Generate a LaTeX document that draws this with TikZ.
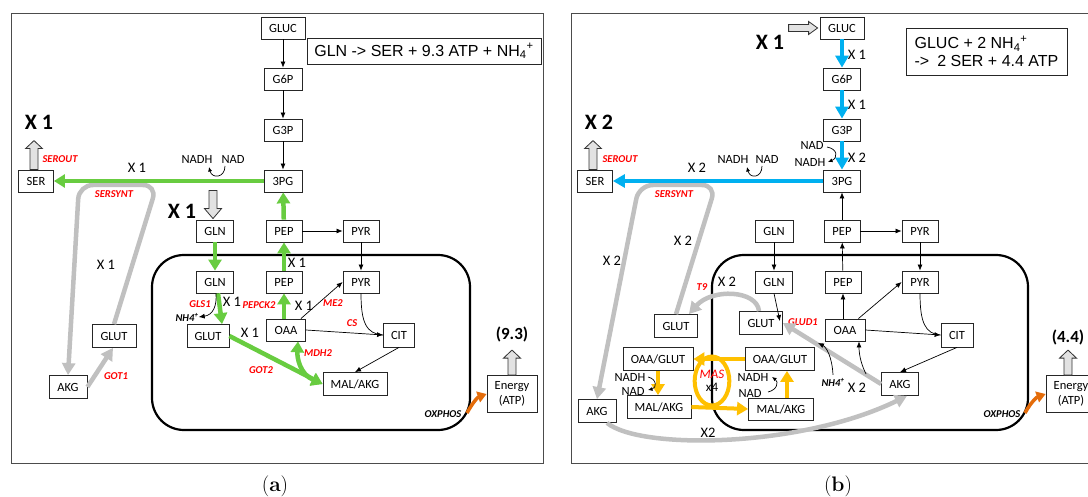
\documentclass[tikz,border=0pt]{standalone}
\usepackage{fontspec}
\newfontfamily\calfont{Carlito}
\newfontfamily\arialfont{Liberation Sans}
\usetikzlibrary{arrows.meta,shapes.geometric,calc}
\definecolor{gGreen}{RGB}{104,204,64}
\definecolor{bBlue}{RGB}{0,176,240}
\definecolor{masOr}{RGB}{255,192,0}
\definecolor{oxOr}{RGB}{228,108,10}
\definecolor{lGray}{RGB}{192,192,192}
\definecolor{hGray}{RGB}{226,226,226}
\begin{document}
\begin{tikzpicture}[x=1pt,y=-1pt,
 box/.style={draw=black!85, line width=0.8pt, fill=white, inner sep=0pt, minimum height=22pt, font=\calfont\fontsize{12.5}{14}\selectfont},
 lbl/.style={inner sep=0pt, font=\calfont\fontsize{12.5}{14}\selectfont},
 xl/.style={inner sep=0pt, font=\calfont\fontsize{14.5}{16}\selectfont},
 xb/.style={inner sep=0pt, font=\calfont\bfseries\fontsize{22}{24}\selectfont},
 enz/.style={inner sep=0pt, text=red, font=\calfont\bfseries\itshape\fontsize{10.5}{12}\selectfont},
 blk/.style={inner sep=0pt, font=\calfont\bfseries\itshape\fontsize{10.5}{12}\selectfont},
 atp/.style={inner sep=0pt, font=\calfont\bfseries\fontsize{17}{19}\selectfont},
 eqbox/.style={draw=black!85, line width=0.8pt, inner sep=0pt, font=\arialfont\fontsize{16}{18}\selectfont},
 thinar/.style={draw=black, line width=0.7pt, -{Latex[length=6pt,width=5pt]}},
 smallar/.style={draw=black, line width=0.7pt, -{Latex[length=4.5pt,width=4pt]}},
 thinln/.style={draw=black, line width=0.7pt},
 gar/.style={draw=gGreen, line width=4.5pt, -{Triangle[length=11pt,width=13pt]}},
 bar/.style={draw=bBlue, line width=4.5pt, -{Triangle[length=12pt,width=13pt]}},
 gyar/.style={draw=lGray, line width=4.5pt, -{Triangle[length=12pt,width=13pt]}, rounded corners=14pt},
 orar/.style={draw=masOr, line width=4pt, -{Triangle[length=11pt,width=13pt]}},
 oxar/.style={draw=oxOr, line width=3.5pt, -{Triangle[length=9pt,width=11pt]}},
 hollowst/.style={draw=black!80, line width=0.8pt, fill=hGray},
 panelframe/.style={draw=black!70, line width=0.9pt},
 mito/.style={draw=black, line width=2.2pt, rounded corners=32pt},
 captionstyle/.style={inner sep=0pt, font=\rmfamily\fontsize{21}{23}\selectfont},
 pics/hup/.style={code={\draw[hollowst] (-4,0) -- (-4,-#1+8) -- (-8.5,-#1+8) -- (0,-#1) -- (8.5,-#1+8) -- (4,-#1+8) -- (4,0) -- cycle;}},
 pics/hdown/.style={code={\draw[hollowst] (0,0) -- (-8.5,-10) -- (-4,-10) -- (-4,-#1) -- (4,-#1) -- (4,-10) -- (8.5,-10) -- cycle;}},
 pics/hright/.style={code={\draw[hollowst] (0,0) -- (-9,-6.5) -- (-9,-3.5) -- (-#1,-3.5) -- (-#1,3.5) -- (-9,3.5) -- (-9,6.5) -- cycle;}}
]
\clip (0,0) rectangle (1088,497);
\fill[white] (0,0) rectangle (1088,497);

% ================= frames =================
\draw[panelframe] (11,13) rectangle (543,463);
\draw[panelframe] (571,13) rectangle (1100,463);
\draw[mito] (152,255) rectangle (470,430);
\draw[mito] (712,255) rectangle (1028,430);

% ================= panel (a) nodes =================
\node[box,minimum width=44] (aGLUC) at (283,28) {GLUC};
\node[box,minimum width=38] (aG6P) at (283,79) {G6P};
\node[box,minimum width=38] (aG3P) at (283,130) {G3P};
\node[box,minimum width=38] (a3PG) at (283,181) {3PG};
\node[box,minimum width=36] (aPEP) at (284,231) {PEP};
\node[box,minimum width=36] (aPYR) at (361,231) {PYR};
\node[box,minimum width=35] (aSER) at (36,181) {SER};
\node[box,minimum width=37] (aGLNo) at (215,231) {GLN};
\node[box,minimum width=37] (aGLN) at (215,282) {GLN};
\node[box,minimum width=36] (aPEPi) at (284,282) {PEP};
\node[box,minimum width=36] (aPYRi) at (361,282) {PYR};
\node[box,minimum width=42,minimum height=23] (aGLUT) at (208,336) {GLUT};
\node[box,minimum width=39] (aOAA) at (286,330) {OAA};
\node[box,minimum width=31,minimum height=24] (aCIT) at (399,335) {CIT};
\node[box,minimum width=64,minimum height=23] (aMAL) at (355,384) {MAL/AKG};
\node[box,minimum width=50,minimum height=37,align=center,font=\calfont\fontsize{12.5}{15}\selectfont] (aEN) at (512,394) {Energy\\(ATP)};
\node[box,minimum width=44,minimum height=23] (aGLUTo) at (114,336) {GLUT};
\node[box,minimum width=38,minimum height=23] (aAKGo) at (68,387) {AKG};
\node[eqbox,minimum width=234,minimum height=26] (aEQ) at (424,51) {GLN -> SER + 9.3 ATP + NH\textsubscript{4}\textsuperscript{+}};

% labels (a)
\node[xb] (aXser) at (39,122) {X 1};
\node[xb] (aXgln) at (182,211) {X 1};
\node[enz] (aSEROUT) at (60,159) {SEROUT};
\node[enz] (aSERSYNT) at (114,194) {SERSYNT};
\node[xl] (aXs) at (137,168) {X 1};
\node[lbl] (aNADH) at (197,159) {NADH};
\node[lbl] (aNAD) at (233,159) {NAD};
\node[xl] (aXloop) at (106,265) {X 1};
\node[enz] (aGOT1) at (116,376) {GOT1};
\node[enz] (aGLS1) at (200,304) {GLS1};
\node[blk] (aNH4) at (187,317) {NH4\textsuperscript{+}};
\node[xl] (aXgls) at (232,302) {X 1};
\node[enz] (aPEPCK) at (259,305) {PEPCK2};
\node[xl] (aXpep) at (297,263) {X 1};
\node[xl] (aXoaa) at (304,306) {X 1};
\node[enz] (aME2) at (333,303) {ME2};
\node[enz] (aCS) at (352,323) {CS};
\node[xl] (aXgot) at (250,333) {X 1};
\node[enz] (aGOT2) at (261,370) {GOT2};
\node[enz] (aMDH2) at (318,353) {MDH2};
\node[blk] (aOXPHOS) at (443,414) {OXPHOS};
\node[atp] (aATP) at (512,334) {(9.3)};
\node[captionstyle] (capa) at (275,486) {(\textbf{a})};

% hollow arrows (a)
\pic at ([xshift=-2pt]aSER.north) {hup=29};
\pic at ([xshift=-2pt,yshift=1pt]aGLNo.north) {hdown=28};
\pic at (aEN.north) {hup=25};

% connectors (a)
\draw[thinar] (aGLUC) -- (aG6P);
\draw[thinar] (aG6P) -- (aG3P);
\draw[thinar] (aG3P) -- (a3PG);
\draw[gyar] (aGLUTo.north) -- (157,185) -- (79,185) -- (aAKGo.north);
\draw[gyar] (aAKGo.east) -- ([xshift=-1pt]aGLUTo.south);
\draw[gar] (a3PG) -- (aSER);
\coordinate (aNc1) at (225,166);
\coordinate (aNc2) at (209,167);
\draw[smallar] (aNc1) .. controls (225,178) and (212,179) .. (aNc2);
\draw[gar] (aGLNo) -- (aGLN);
\draw[gar] ([xshift=3pt]aGLN.south) -- ([xshift=14pt]aGLUT.north);
\draw[thinar] ([xshift=1pt]aGLN.south) .. controls (217,306) and (213,315) .. (aNH4.east);
\draw[gar] (aOAA.north -| aPEPi) -- (aPEPi);
\draw[gar] (aPEPi) -- (aPEP);
\draw[gar] (aPEP) -- (a3PG);
\draw[thinar] (aPEP) -- (aPYR);
\draw[thinar] (aPYR) -- (aPYRi);
\draw[thinar] ([xshift=-5pt]aOAA.north east) -- (aPYRi.west);
\draw[thinar] (aOAA.east) -- (aCIT.west);
\draw[thinln] (aPYRi.south) .. controls (361,322) and (366,334) .. (aCIT.west);
\draw[thinar] (aCIT.south) -- (aMAL.north);
\draw[gar] (aGLUT.east) -- (aMAL.west);
\draw[gar, {Triangle[length=11pt,width=13pt]}-{Triangle[length=11pt,width=13pt]}] (aMAL.west) .. controls (300,374) and (297,358) .. ([xshift=12pt]aOAA.south);
\coordinate (aOXs) at (467,413);
\draw[oxar] (aOXs) .. controls (473,402) and (478,397) .. (aEN.west);

% ================= panel (b) nodes =================
\node[box,minimum width=44] (bGLUC) at (842,28) {GLUC};
\node[box,minimum width=37] (bG6P) at (842,79) {G6P};
\node[box,minimum width=37] (bG3P) at (842,130) {G3P};
\node[box,minimum width=37] (b3PG) at (842,181) {3PG};
\node[box,minimum width=36] (bPEP) at (842,231) {PEP};
\node[box,minimum width=36] (bPYR) at (920,231) {PYR};
\node[box,minimum width=35] (bSER) at (595,181) {SER};
\node[box,minimum width=38] (bGLN) at (774,231) {GLN};
\node[box,minimum width=37] (bGLNi) at (774,282) {GLN};
\node[box,minimum width=36] (bPEPi) at (843,282) {PEP};
\node[box,minimum width=36] (bPYRi) at (920,282) {PYR};
\node[box,minimum width=40] (bOAA) at (845,330) {OAA};
\node[box,minimum width=32,minimum height=24] (bCIT) at (957,335) {CIT};
\node[box,minimum width=37,minimum height=23] (bAKGi) at (900,384) {AKG};
\node[box,minimum width=43,minimum height=23] (bGLUT) at (761,323) {GLUT};
\node[box,minimum width=43,minimum height=23] (bGLUTo) at (676,326) {GLUT};
\node[box,minimum width=70,minimum height=23] (bOGl) at (658,359) {OAA/GLUT};
\node[box,minimum width=64,minimum height=23] (bMAl) at (659,407) {MAL/AKG};
\node[box,minimum width=69,minimum height=23] (bOGr) at (780,359) {OAA/GLUT};
\node[box,minimum width=65,minimum height=22] (bMAr) at (781,409) {MAL/AKG};
\node[box,minimum width=38,minimum height=23] (bAKGo) at (597,411) {AKG};
\node[box,minimum width=50,minimum height=37,align=center,font=\calfont\fontsize{12.5}{15}\selectfont] (bEN) at (1071,394) {Energy\\(ATP)};
\node[eqbox,minimum width=161,minimum height=47,align=left] (bEQ) at (986.5,51.5) {GLUC + 2 NH\textsubscript{4}\textsuperscript{+}\\->\enspace 2 SER + 4.4 ATP};
\node[draw=masOr, line width=4pt, ellipse, inner sep=0pt, minimum width=31pt, minimum height=49pt, align=center, font=\calfont\fontsize{13}{13}\selectfont] (bMAS) at (712,381) {\textcolor{red}{\itshape MAS}\\x4};

% labels (b)
\node[xb] (bXgluc) at (770,42) {X 1};
\node[xb] (bXser) at (599,122) {X 2};
\node[enz] (bSEROUT) at (620,159) {SEROUT};
\node[enz] (bSERSYNT) at (674,194) {SERSYNT};
\node[xl] (bXs) at (697,168) {X 2};
\node[lbl] (bNADH) at (733,159) {NADH};
\node[lbl] (bNAD) at (767,159) {NAD};
\node[xl] (bXg1) at (857,55) {X 1};
\node[xl] (bXg2) at (857,105) {X 1};
\node[xl] (bXg3) at (857,158) {X 2};
\node[lbl] (bNAD2) at (812,145) {NAD};
\node[lbl] (bNADH2) at (810,162) {NADH};
\node[xl] (bXl1) at (612,261) {X 2};
\node[xl] (bXl2) at (683,241) {X 2};
\node[enz] (bT9) at (702,287) {T9};
\node[xl] (bXt9) at (727,282) {X 2};
\node[enz] (bGLUD1) at (803,322) {GLUD1};
\node[blk] (bNH4) at (833,382) {NH4\textsuperscript{+}};
\node[xl] (bXnh) at (857,388) {X 2};
\node[lbl] (bNADHl) at (630,377) {NADH};
\node[lbl] (bNADl) at (633,391) {NAD};
\node[lbl] (bNADHr) at (753,377) {NADH};
\node[lbl] (bNADr) at (750,393) {NAD};
\node[xl] (bXakg) at (708,433) {X2};
\node[blk] (bOXPHOS) at (1002,414) {OXPHOS};
\node[atp] (bATP) at (1068,337) {(4.4)};
\node[captionstyle] (capb) at (838,486) {(\textbf{b})};

% hollow arrows (b)
\pic at ([xshift=-2pt]bSER.north) {hup=29};
\pic at ([xshift=-2pt]bGLUC.west) {hright=29};
\pic at ([xshift=-3pt]bEN.north) {hup=25};

% connectors (b)
\draw[gyar] (bGLUTo.north) -- (716,185) -- (639,185) -- (bAKGo.north);
\draw[gyar] ([xshift=-2pt]bGLUT.north) .. controls (757,290) and (712,288) .. ([xshift=-9pt]bGLUTo.north east);
\draw[gyar] ([xshift=10pt]bAKGo.south) .. controls (640,450) and (800,448) .. ([xshift=7pt]bAKGi.south);
\draw[gyar] (bAKGi.west) -- (bGLUT.east);
\draw[bar] (bGLUC) -- (bG6P);
\draw[bar] (bG6P) -- (bG3P);
\draw[bar] (bG3P) -- (b3PG);
\draw[bar] (b3PG) -- (bSER);
\coordinate (bNc1) at (762,166);
\coordinate (bNc2) at (747,167);
\draw[smallar] (bNc1) .. controls (762,178) and (750,179) .. (bNc2);
\coordinate (bNc3) at (827,147);
\coordinate (bNc4) at (828,162);
\draw[smallar] (bNc3) .. controls (838,149) and (838,158) .. (bNc4);
\draw[thinar] (bPEP) -- (b3PG);
\draw[thinar] (bPEP) -- (bPYR);
\draw[thinar] (bGLN) -- (bGLNi);
\draw[thinar] (bPYR) -- (bPYRi);
\draw[thinar] (bPEPi) -- (bPEP);
\draw[thinar] (bOAA.north -| bPEPi) -- (bPEPi);
\draw[thinar] ([xshift=-7pt]bOAA.north east) -- (bPYRi.west);
\draw[thinar] (bOAA.east) -- (bCIT.west);
\draw[thinln] (bPYRi.south) .. controls (920,322) and (925,334) .. (bCIT.west);
\draw[thinar] (bCIT.south) -- (bAKGi.north);
\draw[thinar] (bGLNi.south) -- ([xshift=-3pt,yshift=-10pt]bGLUT.north east);
\coordinate (bAKc) at (866,374);
\draw[thinar] (bAKc) .. controls (860,362) and (859,352) .. ([xshift=14pt]bOAA.south);
\coordinate (bNHc) at (818,343);
\draw[thinar] ([yshift=3pt]bNH4.north) .. controls (832,356) and (826,347) .. (bNHc);
\draw[orar] (bOGr.west) -- (bOGl.east);
\draw[orar] (bMAl.east) -- (bMAr.west);
\draw[orar] (bOGl.south) -- (bOGl.south |- bMAl.north);
\draw[orar] ([xshift=6pt]bMAr.north) -- ([xshift=6pt]bMAr.north |- bOGr.south);
\coordinate (bNc5) at (648,377);
\coordinate (bNc6) at (648,390);
\draw[smallar] (bNc5) .. controls (657,379) and (657,388) .. (bNc6);
\coordinate (bNc7) at (768,392);
\coordinate (bNc8) at (772,377);
\draw[smallar] (bNc7) .. controls (777,390) and (779,382) .. (bNc8);
\coordinate (bOXs) at (1025,413);
\draw[oxar] (bOXs) .. controls (1031,402) and (1037,397) .. (bEN.west);
\end{tikzpicture}
\end{document}
